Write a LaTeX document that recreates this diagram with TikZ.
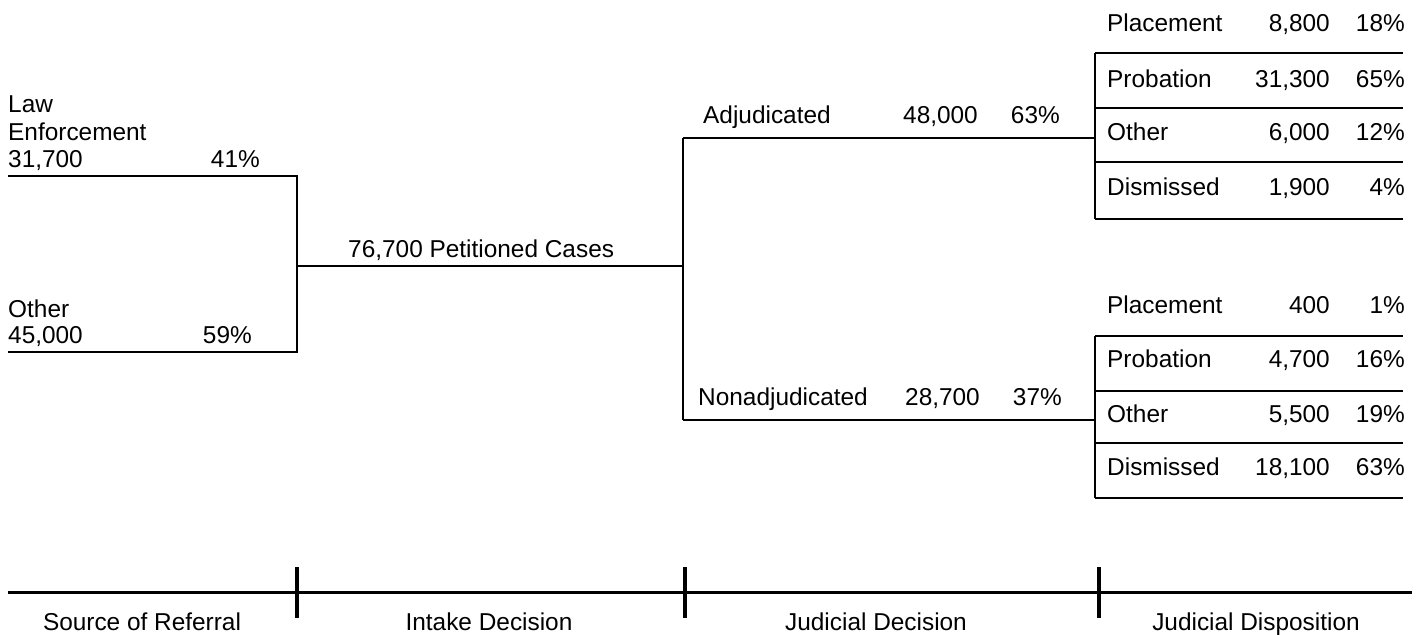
\documentclass[tikz,border=0pt]{standalone}
\usepackage{fontspec}
\setmainfont{Liberation Sans}
\begin{document}
\begin{tikzpicture}[x=1pt,y=-1pt,
  lbl/.style={inner sep=0pt,font=\fontsize{24.4}{28}\selectfont},
  lw/.style={lbl,anchor=base west},
  le/.style={lbl,anchor=base east},
  lc/.style={lbl,anchor=base},
  thin/.style={line width=1.4pt},
  axis/.style={line width=3pt},
  tick/.style={line width=3.5pt}]
\useasboundingbox (0,0) rectangle (1420,634);
% ---------- source of referral ----------
\node[lw] (lawA) at (8,112) {Law};
\node[lw] (lawB) at (8,140) {Enforcement};
\node[lw] (lawN) at (8,167) {31,700};
\node[le] (lawP) at (260,167) {41\%};
\node[lw] (othA) at (8,317) {Other};
\node[lw] (othN) at (8,343) {45,000};
\node[le] (othP) at (252,343) {59\%};
\coordinate (l1) at (8,176);
\coordinate (l2) at (8,352);
\coordinate (j1a) at (297,176);
\coordinate (j1b) at (297,352);
\coordinate (j1) at (297,266);
\draw[thin] (l1) -- (j1a) -- (j1b) -- (l2);
% ---------- intake ----------
\node[lw] (pet) at (348,257) {76,700 Petitioned Cases};
\coordinate (j2) at (683,266);
\coordinate (j2a) at (683,138);
\coordinate (j2b) at (683,420);
\draw[thin] (j1) -- (j2);
\draw[thin] (j2a) -- (j2b);
% ---------- judicial decision ----------
\node[lw] (adj) at (703,123) {Adjudicated};
\node[le] (adjN) at (978,123) {48,000};
\node[le] (adjP) at (1060,123) {63\%};
\node[lw] (non) at (698,405) {Nonadjudicated};
\node[le] (nonN) at (980,405) {28,700};
\node[le] (nonP) at (1062,405) {37\%};
\coordinate (ba) at (1095,138);
\coordinate (bb) at (1095,420);
\draw[thin] (j2a) -- (ba);
\draw[thin] (j2b) -- (bb);
% ---------- disposition (adjudicated) ----------
\coordinate (a0) at (1095,53);  \coordinate (a0e) at (1403,53);
\coordinate (a1) at (1095,108); \coordinate (a1e) at (1403,108);
\coordinate (a2) at (1095,162); \coordinate (a2e) at (1403,162);
\coordinate (a3) at (1095,219); \coordinate (a3e) at (1403,219);
\draw[thin] (a0) -- (a3);
\foreach \i in {0,1,2,3} \draw[thin] (a\i) -- (a\i e);
\node[lw] (ap1) at (1107,32) {Placement};  \node[le] (ap2) at (1330,32) {8,800};  \node[le] (ap3) at (1405,32) {18\%};
\node[lw] (ar1) at (1107,87) {Probation};  \node[le] (ar2) at (1330,87) {31,300}; \node[le] (ar3) at (1405,87) {65\%};
\node[lw] (ao1) at (1107,140) {Other};     \node[le] (ao2) at (1330,140) {6,000}; \node[le] (ao3) at (1405,140) {12\%};
\node[lw] (ad1) at (1107,195) {Dismissed}; \node[le] (ad2) at (1330,195) {1,900}; \node[le] (ad3) at (1405,195) {4\%};
% ---------- disposition (nonadjudicated) ----------
\coordinate (b0) at (1095,336); \coordinate (b0e) at (1403,336);
\coordinate (b1) at (1095,391); \coordinate (b1e) at (1403,391);
\coordinate (b2) at (1095,443); \coordinate (b2e) at (1403,443);
\coordinate (b3) at (1095,498); \coordinate (b3e) at (1403,498);
\draw[thin] (b0) -- (b3);
\foreach \i in {0,1,2,3} \draw[thin] (b\i) -- (b\i e);
\node[lw] (bp1) at (1107,313) {Placement};  \node[le] (bp2) at (1330,313) {400};    \node[le] (bp3) at (1405,313) {1\%};
\node[lw] (br1) at (1107,367) {Probation};  \node[le] (br2) at (1330,367) {4,700};  \node[le] (br3) at (1405,367) {16\%};
\node[lw] (bo1) at (1107,422) {Other};      \node[le] (bo2) at (1330,422) {5,500};  \node[le] (bo3) at (1405,422) {19\%};
\node[lw] (bd1) at (1107,475) {Dismissed};  \node[le] (bd2) at (1330,475) {18,100}; \node[le] (bd3) at (1405,475) {63\%};
% ---------- bottom axis ----------
\coordinate (ax0) at (8,592);
\coordinate (ax1) at (1412,592);
\draw[axis] (ax0) -- (ax1);
\coordinate (t1a) at (297,567); \coordinate (t1b) at (297,618);
\coordinate (t2a) at (685,567); \coordinate (t2b) at (685,618);
\coordinate (t3a) at (1099,567); \coordinate (t3b) at (1099,618);
\draw[tick] (t1a) -- (t1b);
\draw[tick] (t2a) -- (t2b);
\draw[tick] (t3a) -- (t3b);
\node[lc] (s1) at (142,630) {Source of Referral};
\node[lc] (s2) at (489,630) {Intake Decision};
\node[lc] (s3) at (876,630) {Judicial Decision};
\node[lc] (s4) at (1256,630) {Judicial Disposition};
\end{tikzpicture}
\end{document}
